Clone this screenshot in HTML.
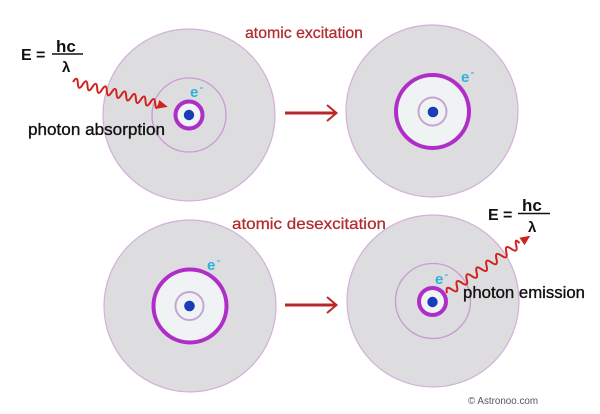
<!DOCTYPE html>
<html><head><meta charset="utf-8"><style>
html,body{margin:0;padding:0;background:#fff;}
svg{display:block;}
text{font-family:"Liberation Sans",Arial,sans-serif;}
</style></head><body>
<svg width="600" height="414" viewBox="0 0 600 414" xmlns="http://www.w3.org/2000/svg">
<rect width="600" height="414" fill="#fff"/>

<!-- Atom 1 top-left -->
<circle cx="189" cy="115" r="86" fill="#dddcde" stroke="#d2b0da" stroke-width="1.2"/>
<circle cx="189" cy="115" r="37" fill="none" stroke="#c89cd2" stroke-width="1.3"/>
<circle cx="189" cy="115" r="13.5" fill="#f1f4f4" stroke="#b02ec8" stroke-width="4"/>
<circle cx="189" cy="115" r="5.2" fill="#1c3bb8"/>

<!-- Atom 2 top-right -->
<circle cx="432" cy="111" r="86" fill="#dddcde" stroke="#d2b0da" stroke-width="1.2"/>
<circle cx="432.5" cy="111.5" r="36.5" fill="#eff3f3" stroke="#b02ec8" stroke-width="4"/>
<circle cx="432.5" cy="111.5" r="14" fill="#eff3f3" stroke="#c6a6d0" stroke-width="2"/>
<circle cx="433" cy="112" r="5.3" fill="#1c3bb8"/>

<!-- Atom 3 bottom-left -->
<circle cx="190" cy="306" r="86" fill="#dddcde" stroke="#d2b0da" stroke-width="1.2"/>
<circle cx="190" cy="306" r="36.5" fill="#eff3f3" stroke="#b02ec8" stroke-width="4"/>
<circle cx="189.5" cy="306" r="14" fill="#eff3f3" stroke="#c6a6d0" stroke-width="2"/>
<circle cx="189.5" cy="306" r="5.3" fill="#1c3bb8"/>

<!-- Atom 4 bottom-right -->
<circle cx="433" cy="301" r="86" fill="#dddcde" stroke="#d2b0da" stroke-width="1.2"/>
<circle cx="433" cy="301" r="37.5" fill="none" stroke="#c89cd2" stroke-width="1.3"/>
<circle cx="432.5" cy="301.5" r="13.5" fill="#f1f4f4" stroke="#b02ec8" stroke-width="4"/>
<circle cx="432.5" cy="302" r="5.2" fill="#1c3bb8"/>

<!-- arrows -->
<g stroke="#b8282a" stroke-width="3" fill="none" stroke-linecap="butt">
  <line x1="285" y1="113" x2="336" y2="113"/>
  <polyline points="327,105 336.5,113 327,121" stroke-width="2"/>
  <line x1="285" y1="305" x2="336" y2="305"/>
  <polyline points="327,297 336.5,305 327,313" stroke-width="2"/>
</g>

<!-- titles -->
<text x="245" y="38" font-size="16" fill="#b02a2e" stroke="#b02a2e" stroke-width="0.25" textLength="118" lengthAdjust="spacingAndGlyphs">atomic excitation</text>
<text x="232" y="229" font-size="16" fill="#b02a2e" stroke="#b02a2e" stroke-width="0.25" textLength="154" lengthAdjust="spacingAndGlyphs">atomic desexcitation</text>

<!-- photon labels -->
<text x="28" y="135" font-size="17" fill="#111" stroke="#111" stroke-width="0.35" textLength="137" lengthAdjust="spacingAndGlyphs">photon absorption</text>
<text x="463" y="298" font-size="17" fill="#111" stroke="#111" stroke-width="0.35" textLength="122" lengthAdjust="spacingAndGlyphs">photon emission</text>

<!-- formula 1 -->
<g fill="#111" font-weight="bold">
  <text x="21" y="60" font-size="16">E</text>
  <text x="36" y="60" font-size="16">=</text>
  <text x="56" y="52" font-size="17">hc</text>
  <text x="62" y="72" font-size="15">λ</text>
</g>
<line x1="52" y1="54" x2="83" y2="54" stroke="#111" stroke-width="1.6"/>

<!-- formula 2 -->
<g fill="#111" font-weight="bold">
  <text x="488" y="220" font-size="16">E</text>
  <text x="503" y="220" font-size="16">=</text>
  <text x="522" y="211" font-size="17">hc</text>
  <text x="528" y="232" font-size="15">λ</text>
</g>
<line x1="518" y1="213.5" x2="550" y2="213.5" stroke="#111" stroke-width="1.6"/>

<!-- electrons -->
<g fill="#2bb3dc" font-weight="bold" font-size="15">
  <text x="190" y="97">e</text>
  <text x="461" y="82">e</text>
  <text x="207" y="270">e</text>
  <text x="435" y="284">e</text>
</g>
<g stroke="#2bb3dc" stroke-width="1">
  <line x1="200" y1="88" x2="203" y2="88"/>
  <line x1="471" y1="73" x2="474" y2="73"/>
  <line x1="217" y1="261" x2="220" y2="261"/>
  <line x1="445" y1="275" x2="448" y2="275"/>
</g>

<!-- wave 1 (absorption) -->
<g transform="translate(73,82) rotate(14.7)">
  <path d="M0,0 q2.5,-8 5,0 t5,0 t5,0 t5,0 t5,0 t5,0 t5,0 t5,0 t5,0 t5,0 t5,0 t5,0 t5,0 t5,0 t5,0 t5,0 t5,0 t4,0" fill="none" stroke="#d0221e" stroke-width="2"/>
  <polygon points="88,-4.5 98,0 88,4.5" fill="#d0221e"/>
</g>

<!-- wave 2 (emission) -->
<g transform="translate(447,293) rotate(-34.5)">
  <path d="M0,0 q3,-8 6,0 t6,0 t6,0 t6,0 t6,0 t6,0 t6,0 t6,0 t6,0 t6,0 t6,0 t6,0 t6,0 t6,0 t4,0" fill="none" stroke="#d0221e" stroke-width="2"/>
  <polygon points="91,-4.5 101,0 91,4.5" fill="#d0221e"/>
</g>

<!-- copyright -->
<text x="468" y="404" font-size="10" fill="#555" textLength="70" lengthAdjust="spacingAndGlyphs">© Astronoo.com</text>
</svg>
</body></html>
